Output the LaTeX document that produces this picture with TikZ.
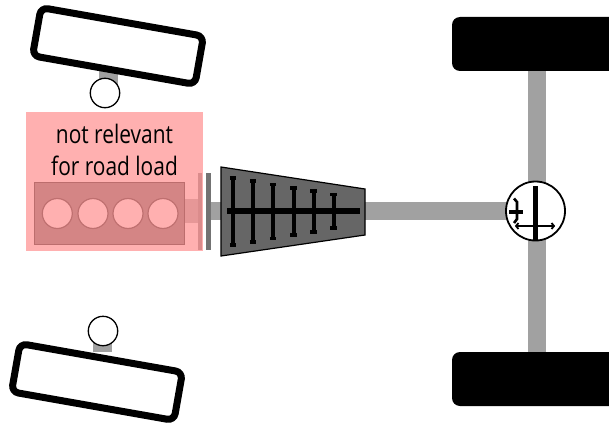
\documentclass[tikz,border=0pt]{standalone}
\usepackage{fontspec}
\setmainfont{Carlito}
\newfontfamily\labelfont[FakeStretch=.82]{Open Sans}
\definecolor{shaftgray}{gray}{0.63}
\tikzset{
  shaft/.style={fill=shaftgray,draw=none},
  tyre/.style={draw=black,line width=7pt,fill=white,rounded corners=7pt},
  rearwheel/.style={fill=black,rounded corners=8pt},
  hub/.style={draw=black,line width=1.3pt,fill=white},
  gearline/.style={draw=black,line width=4pt},
  gearcap/.style={draw=black,line width=3.4pt},
  diffline/.style={draw=black,line width=2.6pt},
  cyl/.style={fill=white,draw=black!36,line width=1.2pt},
  textlabel/.style={font=\labelfont\fontsize{25.5}{25.5}\selectfont,anchor=base,inner sep=0pt},
}
\begin{document}
\begin{tikzpicture}[x=1pt,y=-1pt]
\useasboundingbox (0,0) rectangle (609,425);
% axles
\fill[shaft] (528,60) rectangle (546,365);
\fill[shaft] (365,202) rectangle (510,220);
\fill[shaft] (210,202) rectangle (222,220);
\fill[black!14] (184,199) rectangle (198,223);
\fill[shaft] (99,70) rectangle (118,85);
\fill[shaft] (93,340) rectangle (112,352);
% rear wheels
\fill[rearwheel] (452,17) rectangle (625,71);
\fill[rearwheel] (452,352) rectangle (625,406);
% front wheels
\draw[tyre,rotate around={-10:(118,46)}] (35.5,21.5) rectangle (200.5,70.5);
\draw[tyre,rotate around={-10:(97,382)}] (14.5,357.5) rectangle (179.5,406.5);
\draw[hub] (105,93) circle (14.7);
\draw[hub] (103,331) circle (14.7);
% clutch
\fill[black!55] (206,173) rectangle (210.5,250);
\fill[black!20] (197.5,173) rectangle (202,250);
% engine
\fill[black!24,draw=black!38,line width=1pt] (34.5,182) rectangle (184,244);
\foreach \cx in {57.3,93,128,163}
  \draw[cyl] (\cx,213.5) circle (15);
% not-relevant overlay
\fill[red,fill opacity=.31] (26,112) rectangle (203,251);
\node[textlabel] (t1) at (114.5,143) {not relevant};
\node[textlabel] (t2) at (114.5,175) {for road load};
% gearbox
\draw[fill=black!60,draw=black,line width=1.2pt,line join=miter] (221,167) -- (365,189) -- (365,235) -- (221,256) -- cycle;
\foreach \gx/\gt/\gb in {233/178/245,253/181/242,273/184.5/238.5,293.5/188/235,313.5/191/232,333.5/194.5/228}{
  \draw[gearline] (\gx,\gt) -- (\gx,\gb);
  \draw[gearcap] (\gx-3.2,\gt) -- (\gx+3.2,\gt);
  \draw[gearcap] (\gx-3.2,\gb) -- (\gx+3.2,\gb);
}
\draw[draw=black,line width=6pt] (227,210.5) -- (360,210.5);
% differential
\draw[draw=black,line width=1.8pt,fill=white] (535.5,211) circle (29.5);
\draw[draw=black,line width=4.2pt] (535.5,186) -- (535.5,239.5);
\draw[diffline] (517,226) -- (553,226);
\draw[draw=black,line width=1.8pt] (518.5,223) -- (516,226) -- (518.5,229);
\draw[draw=black,line width=1.8pt] (551.5,223) -- (554,226) -- (551.5,229);
\draw[draw=black,line width=3.2pt] (509,212) -- (523,212);
\draw[diffline] (514,198.5) -- (517,202) -- (517,219) -- (514,223);
\end{tikzpicture}
\end{document}
